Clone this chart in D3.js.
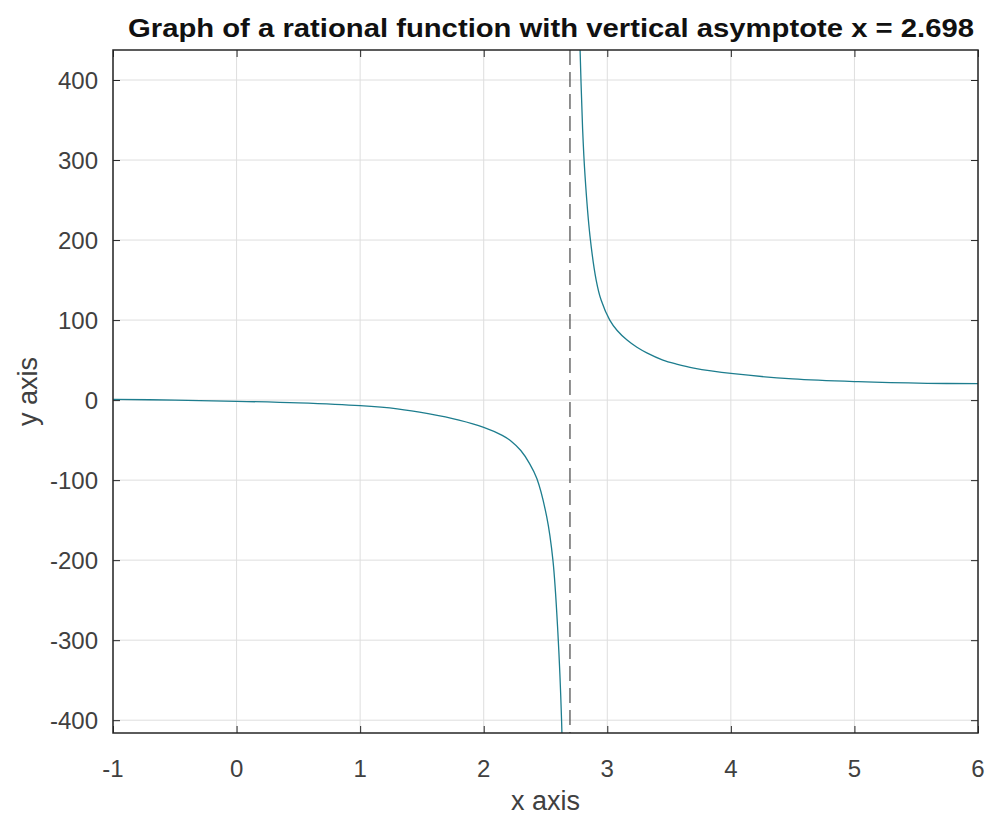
<!DOCTYPE html>
<html>
<head>
<meta charset="utf-8">
<script src="https://cdn.jsdelivr.net/npm/d3@7"></script>
<style>
  body { margin: 0; background: #fff; }
  svg { font-family: Arial, "Liberation Sans", sans-serif; }
  .tick-text { fill: #404040; font-size: 24px; }
  .axis-label { fill: #404040; font-size: 27px; }
  .title { fill: #111; font-size: 25px; font-weight: bold; }
</style>
</head>
<body>
<svg id="chart" width="987" height="816"></svg>
<script>
// values
var asymptote = 2.698;
var xTicks = [-1, 0, 1, 2, 3, 4, 5, 6];
var yTicks = [-400, -300, -200, -100, 0, 100, 200, 300, 400];

// branch left of the asymptote
var leftX = [-1, -0.5, 0, 0.5, 1.0, 1.3, 1.55, 1.8, 2.0, 2.15, 2.22, 2.3, 2.37, 2.43, 2.51, 2.56, 2.6, 2.63, 2.645];
var leftY = [1, 0, -1.5, -3.5, -7, -11, -17, -25, -34, -44, -51, -63, -79, -98, -146, -200, -290, -400, -520];

// branch right of the asymptote
var rightX = [2.765, 2.78, 2.8, 2.82, 2.86, 2.91, 2.95, 3.02, 3.08, 3.16, 3.24, 3.32, 3.45, 3.56, 3.7, 4.02, 4.5, 5.03, 5.59, 6];
var rightY = [520, 437, 340, 280, 205, 150, 125, 100, 87, 75, 66, 59, 50, 45, 40, 33, 26.5, 23, 21, 20.5];

var svg = d3.select('#chart');
var pLeft = 113, pRight = 978, pTop = 50, pBottom = 733;

var x = d3.scaleLinear().domain([-1, 6]).range([pLeft, pRight]);
var y = d3.scaleLinear().domain([-416, 437.5]).range([pBottom, pTop]);

svg.append('defs').append('clipPath')
    .attr('id', 'plot-clip')
  .append('rect')
    .attr('x', pLeft)
    .attr('y', pTop)
    .attr('width', pRight - pLeft)
    .attr('height', pBottom - pTop);

//grid
svg.append('g')
    .selectAll('line')
    .data(xTicks)
    .enter().append('line')
    .attr('x1', function(d) { return x(d); })
    .attr('x2', function(d) { return x(d); })
    .attr('y1', pTop)
    .attr('y2', pBottom)
    .attr('stroke', '#dedede')
    .attr('stroke-width', 1);

svg.append('g')
    .selectAll('line')
    .data(yTicks)
    .enter().append('line')
    .attr('x1', pLeft)
    .attr('x2', pRight)
    .attr('y1', function(d) { return y(d); })
    .attr('y2', function(d) { return y(d); })
    .attr('stroke', '#dedede')
    .attr('stroke-width', 1);

//axes with inward ticks, on all four sides
svg.append('g')
    .attr('transform', 'translate(0,' + pBottom + ')')
    .call(d3.axisBottom(x).tickValues(xTicks).tickSize(-7).tickFormat(''))
    .call(function(g) { g.select('.domain').remove(); });

svg.append('g')
    .attr('transform', 'translate(0,' + pTop + ')')
    .call(d3.axisTop(x).tickValues(xTicks).tickSize(-7).tickFormat(''))
    .call(function(g) { g.select('.domain').remove(); });

svg.append('g')
    .attr('transform', 'translate(' + pLeft + ',0)')
    .call(d3.axisLeft(y).tickValues(yTicks).tickSize(-7).tickFormat(''))
    .call(function(g) { g.select('.domain').remove(); });

svg.append('g')
    .attr('transform', 'translate(' + pRight + ',0)')
    .call(d3.axisRight(y).tickValues(yTicks).tickSize(-7).tickFormat(''))
    .call(function(g) { g.select('.domain').remove(); });

svg.selectAll('.tick line').attr('stroke', '#262626');

//tick labels
svg.append('g')
    .selectAll('text')
    .data(xTicks)
    .enter().append('text')
    .attr('class', 'tick-text')
    .attr('text-anchor', 'middle')
    .attr('x', function(d) { return x(d); })
    .attr('y', pBottom + 44)
    .text(function(d) { return d; });

svg.append('g')
    .selectAll('text')
    .data(yTicks)
    .enter().append('text')
    .attr('class', 'tick-text')
    .attr('text-anchor', 'end')
    .attr('dominant-baseline', 'central')
    .attr('x', pLeft - 15)
    .attr('y', function(d) { return y(d); })
    .text(function(d) { return d; });

//curve, one path per branch
var line = d3.line()
    .x(function(d) { return x(d[0]); })
    .y(function(d) { return y(d[1]); })
    .curve(d3.curveCatmullRom.alpha(0.5));

var plot = svg.append('g').attr('clip-path', 'url(#plot-clip)');

[[leftX, leftY], [rightX, rightY]].forEach(function(branch) {
    plot.append('path')
        .datum(d3.zip(branch[0], branch[1]))
        .attr('fill', 'none')
        .attr('stroke', '#1d7d8e')
        .attr('stroke-width', 1.3)
        .attr('d', line);
});

//vertical asymptote
plot.append('line')
    .attr('x1', x(asymptote))
    .attr('x2', x(asymptote))
    .attr('y1', pTop)
    .attr('y2', pBottom)
    .attr('stroke', '#555')
    .attr('stroke-width', 1.3)
    .attr('stroke-dasharray', '15,7');

//box
svg.append('rect')
    .attr('x', pLeft)
    .attr('y', pTop)
    .attr('width', pRight - pLeft)
    .attr('height', pBottom - pTop)
    .attr('fill', 'none')
    .attr('stroke', '#262626')
    .attr('stroke-width', 1.5);

//labels
svg.append('text')
    .attr('class', 'axis-label')
    .attr('text-anchor', 'middle')
    .attr('x', (pLeft + pRight) / 2)
    .attr('y', 810)
    .text('x axis');

svg.append('text')
    .attr('class', 'axis-label')
    .attr('text-anchor', 'middle')
    .attr('transform', 'translate(37,' + (pTop + pBottom) / 2 + ') rotate(-90)')
    .text('y axis');

svg.append('text')
    .attr('class', 'title')
    .attr('text-anchor', 'middle')
    .attr('x', 551)
    .attr('y', 37)
    .attr('textLength', 846)
    .attr('lengthAdjust', 'spacingAndGlyphs')
    .text('Graph of a rational function with vertical asymptote x = 2.698');
</script>
</body>
</html>
